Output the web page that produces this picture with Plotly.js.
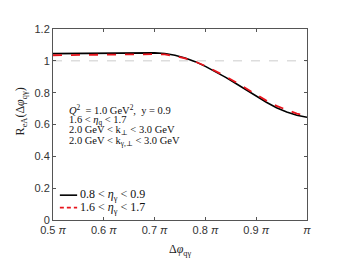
<!DOCTYPE html>
<html><head><meta charset="utf-8">
<script src="https://cdn.plot.ly/plotly-3.0.1.min.js"></script>
<style>html,body{margin:0;padding:0;background:#fff}#c{width:350px;height:263px}</style>
</head><body><div id="c"></div>
<script>
// x in units of pi
const xPhi = [0.50,0.55,0.60,0.65,0.70,0.72,0.74,0.76,0.78,0.80,0.82,0.84,0.86,0.88,0.90,0.92,0.94,0.96,0.98,1.00];
const rBlack = [1.045,1.047,1.049,1.051,1.050,1.046,1.035,1.018,0.995,0.965,0.932,0.896,0.858,0.818,0.777,0.740,0.705,0.678,0.658,0.645];
const rRed   = [1.035,1.037,1.040,1.042,1.042,1.040,1.030,1.015,0.995,0.968,0.937,0.902,0.865,0.826,0.787,0.750,0.717,0.690,0.668,0.655];
const xTickVals = [0.5,0.6,0.7,0.8,0.9,1.0];
const xTickText = ['0.5 <i>π</i>','0.6 <i>π</i>','0.7 <i>π</i>','0.8 <i>π</i>','0.9 <i>π</i>','<i>π</i>'];
const yTickVals = [0,0.2,0.4,0.6,0.8,1,1.2];
const yTickText = ['0','0.2','0.4','0.6','0.8','1','1.2'];
const seriesNames = ['0.8 &lt; <i>η</i><sub>γ</sub> &lt; 0.9','1.6 &lt; <i>η</i><sub>γ</sub> &lt; 1.7'];
const seriesColors = ['#000000','#e8141c'];
const seriesDash = ['solid','dash'];
const infoLines = [
  '<i>Q</i><sup>2</sup>  = 1.0 GeV<sup>2</sup>,  y = 0.9',
  '1.6 &lt; <i>η</i><sub>q</sub> &lt; 1.7',
  '2.0 GeV &lt; k<sub>⊥</sub> &lt; 3.0 GeV',
  '2.0 GeV &lt; k<sub>γ,⊥</sub> &lt; 3.0 GeV'
];
const serif = 'Liberation Serif, DejaVu Serif, serif';
const sans = 'Liberation Sans, Arial, sans-serif';

const traces = [
  {x:xPhi, y:rBlack, mode:'lines', name:seriesNames[0], line:{color:seriesColors[0], width:1.6}},
  {x:xPhi, y:rRed, mode:'lines', name:seriesNames[1], line:{color:seriesColors[1], width:1.8, dash:seriesDash[1]}}
];
const annotations = infoLines.map((t,i)=>({
  xref:'paper', yref:'paper', x:0.055, y:0.58 - i*0.057, xanchor:'left', yanchor:'middle',
  text:t, showarrow:false, font:{family:serif, size:10.5, color:'#111'}
}));
annotations.push({xref:'paper', yref:'paper', x:-0.125, y:0.57, xanchor:'center', yanchor:'middle', textangle:-90,
  text:'R<sub>eA</sub>(Δ<i>φ</i><sub>qγ</sub>)', showarrow:false, font:{family:serif, size:12, color:'#222'}});
annotations.push({xref:'paper', yref:'paper', x:0.5, y:-0.105, xanchor:'center', yanchor:'top',
  text:'Δ<i>φ</i><sub>qγ</sub>', showarrow:false, font:{family:serif, size:12, color:'#222'}});
// manual legend
const shapes = [{type:'line', xref:'paper', yref:'y', x0:0, x1:1, y0:1, y1:1,
    line:{color:'#cccccc', width:1, dash:'dash'}, layer:'below'}];
const legY = [0.13, 0.065];
seriesNames.forEach((n,i)=>{
  shapes.push({type:'line', xref:'paper', yref:'paper', x0:0.027, x1:0.095, y0:legY[i], y1:legY[i],
    line:{color:seriesColors[i], width:i?1.8:1.6, dash:i?'4px,3px':'solid'}});
  annotations.push({xref:'paper', yref:'paper', x:0.097, y:legY[i], xanchor:'left', yanchor:'middle',
    text:n, showarrow:false, font:{family:serif, size:12, color:'#111'}});
});

const layout = {
  width:350, height:263, margin:{l:53, r:43, t:29, b:43},
  paper_bgcolor:'#fff', plot_bgcolor:'#fff',
  showlegend:false,
  xaxis:{range:[0.5,1.0], tickvals:xTickVals, ticktext:xTickText, ticks:'inside', ticklen:3,
    showline:true, linecolor:'#555', linewidth:1, mirror:'ticks', showgrid:false, zeroline:false,
    tickfont:{family:sans, size:11, color:'#333'}, tickcolor:'#555'},
  yaxis:{range:[0,1.2], tickvals:yTickVals, ticktext:yTickText, ticks:'inside', ticklen:3,
    showline:true, linecolor:'#555', linewidth:1, mirror:'ticks', showgrid:false, zeroline:false,
    tickfont:{family:sans, size:11, color:'#333'}, tickcolor:'#555'},
  shapes:shapes,
  annotations:annotations
};
Plotly.newPlot('c', traces, layout, {staticPlot:true, displayModeBar:false});
</script></body></html>
